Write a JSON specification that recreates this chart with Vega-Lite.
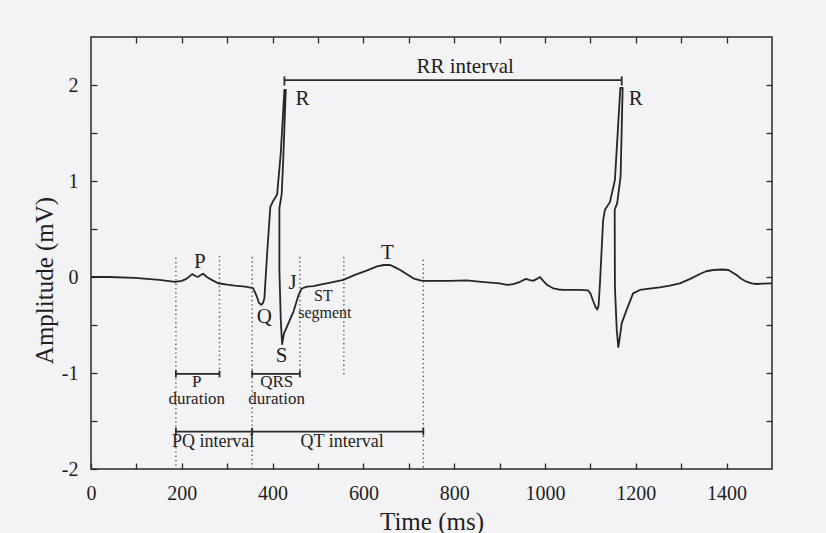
{
  "$schema": "https://vega.github.io/schema/vega-lite/v6.json",
  "width": 681,
  "height": 432,
  "autosize": {"type": "none"},
  "padding": {"left": 91, "top": 37, "right": 54, "bottom": 64},
  "background": "#f3f3f5",
  "config": {
    "view": {"stroke": "#2a2a2a", "strokeWidth": 1.5},
    "font": "Liberation Serif",
    "axis": {"domain": false, "grid": false, "tickColor": "#2a2a2a", "tickWidth": 1.3, "tickSize": -6, "labelFont": "Liberation Serif", "labelColor": "#1e1e1e", "labelFontSize": 20, "titleFont": "Liberation Serif", "titleFontWeight": "normal", "titleColor": "#1e1e1e", "titleFontSize": 25}
  },
  "datasets": {
    "ecg": [
      {"i":1,"t":0,"v":0.0},{"i":2,"t":40,"v":0.0},{"i":3,"t":97,"v":-0.01},{"i":4,"t":150,"v":-0.03},{"i":5,"t":185,"v":-0.05},
      {"i":6,"t":200,"v":-0.04},{"i":7,"t":210,"v":-0.02},{"i":8,"t":223,"v":0.03},{"i":9,"t":230,"v":0.01},{"i":10,"t":235,"v":0.0},
      {"i":11,"t":242,"v":0.02},{"i":12,"t":247,"v":0.035},{"i":13,"t":255,"v":0.0},{"i":14,"t":266,"v":-0.03},{"i":15,"t":280,"v":-0.065},
      {"i":16,"t":300,"v":-0.08},{"i":17,"t":317,"v":-0.09},{"i":18,"t":340,"v":-0.1},{"i":19,"t":357,"v":-0.115},{"i":20,"t":365,"v":-0.2},
      {"i":21,"t":370,"v":-0.27},{"i":22,"t":375,"v":-0.29},{"i":23,"t":379,"v":-0.27},{"i":24,"t":382,"v":-0.22},{"i":25,"t":388,"v":0.25},
      {"i":26,"t":395,"v":0.73},{"i":27,"t":401,"v":0.79},{"i":28,"t":410,"v":0.86},{"i":29,"t":418,"v":1.29},{"i":30,"t":426,"v":1.95},
      {"i":31,"t":429,"v":1.95},{"i":32,"t":424,"v":1.29},{"i":33,"t":420,"v":0.86},{"i":34,"t":415,"v":0.72},{"i":35,"t":415,"v":0.07},
      {"i":36,"t":418,"v":-0.45},{"i":37,"t":421,"v":-0.7},{"i":38,"t":425,"v":-0.59},{"i":39,"t":435,"v":-0.48},{"i":40,"t":446,"v":-0.36},
      {"i":41,"t":457,"v":-0.19},{"i":42,"t":464,"v":-0.12},{"i":43,"t":476,"v":-0.1},{"i":44,"t":490,"v":-0.094},{"i":45,"t":505,"v":-0.08},
      {"i":46,"t":530,"v":-0.055},{"i":47,"t":556,"v":-0.03},{"i":48,"t":580,"v":0.02},{"i":49,"t":607,"v":0.066},{"i":50,"t":630,"v":0.11},
      {"i":51,"t":645,"v":0.125},{"i":52,"t":659,"v":0.125},{"i":53,"t":670,"v":0.1},{"i":54,"t":681,"v":0.073},{"i":55,"t":695,"v":0.03},
      {"i":56,"t":710,"v":-0.014},{"i":57,"t":725,"v":-0.035},{"i":58,"t":732,"v":-0.04},{"i":59,"t":760,"v":-0.04},{"i":60,"t":790,"v":-0.04},
      {"i":61,"t":827,"v":-0.035},{"i":62,"t":860,"v":-0.05},{"i":63,"t":900,"v":-0.066},{"i":64,"t":916,"v":-0.083},{"i":65,"t":930,"v":-0.075},
      {"i":66,"t":945,"v":-0.05},{"i":67,"t":958,"v":-0.02},{"i":68,"t":965,"v":-0.03},{"i":69,"t":974,"v":-0.04},{"i":70,"t":982,"v":-0.02},
      {"i":71,"t":989,"v":0.0},{"i":72,"t":996,"v":-0.04},{"i":73,"t":1004,"v":-0.08},{"i":74,"t":1018,"v":-0.118},{"i":75,"t":1030,"v":-0.13},
      {"i":76,"t":1040,"v":-0.135},{"i":77,"t":1060,"v":-0.135},{"i":78,"t":1077,"v":-0.135},{"i":79,"t":1095,"v":-0.14},{"i":80,"t":1100,"v":-0.17},
      {"i":81,"t":1106,"v":-0.25},{"i":82,"t":1111,"v":-0.31},{"i":83,"t":1115,"v":-0.34},{"i":84,"t":1118,"v":-0.3},{"i":85,"t":1121,"v":-0.07},
      {"i":86,"t":1128,"v":0.59},{"i":87,"t":1132,"v":0.7},{"i":88,"t":1143,"v":0.78},{"i":89,"t":1154,"v":1.01},{"i":90,"t":1166,"v":1.97},
      {"i":91,"t":1171,"v":1.97},{"i":92,"t":1166.5,"v":1.045},{"i":93,"t":1159,"v":0.77},{"i":94,"t":1153.5,"v":0.7},{"i":95,"t":1154,"v":-0.1},
      {"i":96,"t":1158,"v":-0.55},{"i":97,"t":1161.5,"v":-0.73},{"i":98,"t":1165,"v":-0.62},{"i":99,"t":1169,"v":-0.48},{"i":100,"t":1180,"v":-0.34},
      {"i":101,"t":1194,"v":-0.17},{"i":102,"t":1209,"v":-0.135},{"i":103,"t":1230,"v":-0.12},{"i":104,"t":1253,"v":-0.107},{"i":105,"t":1275,"v":-0.09},
      {"i":106,"t":1297,"v":-0.066},{"i":107,"t":1320,"v":-0.02},{"i":108,"t":1341,"v":0.031},{"i":109,"t":1355,"v":0.06},{"i":110,"t":1371,"v":0.073},
      {"i":111,"t":1390,"v":0.078},{"i":112,"t":1404,"v":0.073},{"i":113,"t":1414,"v":0.045},{"i":114,"t":1422,"v":0.02},{"i":115,"t":1433,"v":-0.02},
      {"i":116,"t":1444,"v":-0.049},{"i":117,"t":1455,"v":-0.066},{"i":118,"t":1466,"v":-0.073},{"i":119,"t":1480,"v":-0.07},{"i":120,"t":1500,"v":-0.066}
    ],
    "dotted": [
      {"t":187,"top":0.2,"bottom":-2},
      {"t":283,"top":0.22,"bottom":-1.0},
      {"t":355,"top":0.21,"bottom":-2},
      {"t":460,"top":0.21,"bottom":-1.0},
      {"t":557,"top":0.21,"bottom":-1.04},
      {"t":732,"top":0.18,"bottom":-2}
    ],
    "bars": [
      {"name":"RR interval","start":426,"end":1169,"v":2.05},
      {"name":"P duration","start":187,"end":283,"v":-1.01},
      {"name":"QRS duration","start":355,"end":460,"v":-1.01},
      {"name":"PQ interval","start":187,"end":355,"v":-1.61},
      {"name":"QT interval","start":355,"end":732,"v":-1.61}
    ],
    "caps": [
      {"t":426,"lo":1.995,"hi":2.09},
      {"t":1169,"lo":1.995,"hi":2.09},
      {"t":187,"lo":-1.045,"hi":-0.975},
      {"t":283,"lo":-1.045,"hi":-0.975},
      {"t":355,"lo":-1.045,"hi":-0.975},
      {"t":460,"lo":-1.045,"hi":-0.975},
      {"t":187,"lo":-1.65,"hi":-1.57},
      {"t":355,"lo":-1.65,"hi":-1.57},
      {"t":732,"lo":-1.65,"hi":-1.57}
    ],
    "waves": [
      {"label":"P","t":240,"v":0.16},
      {"label":"Q","t":382,"v":-0.42},
      {"label":"R","t":466,"v":1.85},
      {"label":"S","t":420,"v":-0.82},
      {"label":"J","t":444,"v":-0.06},
      {"label":"T","t":653,"v":0.25},
      {"label":"R","t":1200,"v":1.85}
    ],
    "notes": [
      {"label":"P","t":233,"v":-1.09},
      {"label":"duration","t":233,"v":-1.275},
      {"label":"QRS","t":409,"v":-1.09},
      {"label":"duration","t":409,"v":-1.275}
    ],
    "intervals": [
      {"label":"PQ interval","t":269,"v":-1.715},
      {"label":"QT interval","t":553,"v":-1.715}
    ],
    "small": [
      {"label":"ST","t":512,"v":-0.2},
      {"label":"segment","t":515,"v":-0.375}
    ],
    "heads": [
      {"label":"RR interval","t":824,"v":2.19}
    ]
  },
  "layer": [
    {
      "data": {"name": "dotted"},
      "mark": {"type": "rule", "color": "#555", "strokeWidth": 1.4, "strokeDash": [1.3, 3]},
      "encoding": {
        "x": {"field": "t", "type": "quantitative", "axis": null},
        "y": {"field": "top", "type": "quantitative", "axis": null},
        "y2": {"field": "bottom"}
      }
    },
    {
      "data": {"name": "bars"},
      "mark": {"type": "rule", "color": "#2a2a2a", "strokeWidth": 1.8},
      "encoding": {
        "x": {"field": "start", "type": "quantitative", "axis": null},
        "x2": {"field": "end"},
        "y": {"field": "v", "type": "quantitative", "axis": null}
      }
    },
    {
      "data": {"name": "caps"},
      "mark": {"type": "rule", "color": "#2a2a2a", "strokeWidth": 1.8},
      "encoding": {
        "x": {"field": "t", "type": "quantitative", "axis": null},
        "y": {"field": "lo", "type": "quantitative", "axis": null},
        "y2": {"field": "hi"}
      }
    },
    {
      "data": {"name": "ecg"},
      "mark": {"type": "line", "color": "#262626", "strokeWidth": 1.8, "strokeJoin": "round"},
      "encoding": {
        "x": {"field": "t", "type": "quantitative",
          "scale": {"domain": [0, 1500], "nice": false, "zero": false},
          "axis": {"orient": "bottom", "title": "Time (ms)", "values": [0,100,200,300,400,500,600,700,800,900,1000,1100,1200,1300,1400],
            "labelExpr": "datum.value % 200 == 0 ? '' + datum.value : ''", "labelPadding": 20, "labelFlush": false, "titleY": 52, "titleBaseline": "middle"}},
        "y": {"field": "v", "type": "quantitative",
          "scale": {"domain": [-2, 2.5], "nice": false, "zero": false},
          "axis": {"orient": "left", "title": "Amplitude (mV)", "values": [-2,-1.5,-1,-0.5,0,0.5,1,1.5,2],
            "labelExpr": "datum.value % 1 == 0 ? '' + datum.value : ''", "labelPadding": 19, "labelFlush": false,
            "titleX": -47, "titleY": 243, "titleBaseline": "middle", "titleAlign": "center", "titleAngle": -90}},
        "order": {"field": "i", "type": "quantitative"}
      }
    },
    {
      "data": {"name": "waves"},
      "mark": {"type": "text", "font": "Liberation Serif", "fontSize": 21, "color": "#1e1e1e", "align": "center", "baseline": "middle"},
      "encoding": {
        "x": {"field": "t", "type": "quantitative", "axis": {"orient": "top", "title": null, "labels": false, "values": [100,200,300,400,500,600,700,800,900,1000,1100,1200,1300,1400]}},
        "y": {"field": "v", "type": "quantitative", "axis": {"orient": "right", "title": null, "labels": false, "values": [-1.5,-1,-0.5,0,0.5,1,1.5,2]}},
        "text": {"field": "label"}
      }
    },
    {
      "data": {"name": "notes"},
      "mark": {"type": "text", "font": "Liberation Serif", "fontSize": 17, "color": "#1e1e1e", "align": "center", "baseline": "middle"},
      "encoding": {
        "x": {"field": "t", "type": "quantitative", "axis": null},
        "y": {"field": "v", "type": "quantitative", "axis": null},
        "text": {"field": "label"}
      }
    },
    {
      "data": {"name": "intervals"},
      "mark": {"type": "text", "font": "Liberation Serif", "fontSize": 18, "color": "#1e1e1e", "align": "center", "baseline": "middle"},
      "encoding": {
        "x": {"field": "t", "type": "quantitative", "axis": null},
        "y": {"field": "v", "type": "quantitative", "axis": null},
        "text": {"field": "label"}
      }
    },
    {
      "data": {"name": "small"},
      "mark": {"type": "text", "font": "Liberation Serif", "fontSize": 16, "color": "#1e1e1e", "align": "center", "baseline": "middle"},
      "encoding": {
        "x": {"field": "t", "type": "quantitative", "axis": null},
        "y": {"field": "v", "type": "quantitative", "axis": null},
        "text": {"field": "label"}
      }
    },
    {
      "data": {"name": "heads"},
      "mark": {"type": "text", "font": "Liberation Serif", "fontSize": 21, "color": "#1e1e1e", "align": "center", "baseline": "middle"},
      "encoding": {
        "x": {"field": "t", "type": "quantitative", "axis": null},
        "y": {"field": "v", "type": "quantitative", "axis": null},
        "text": {"field": "label"}
      }
    }
  ]
}
